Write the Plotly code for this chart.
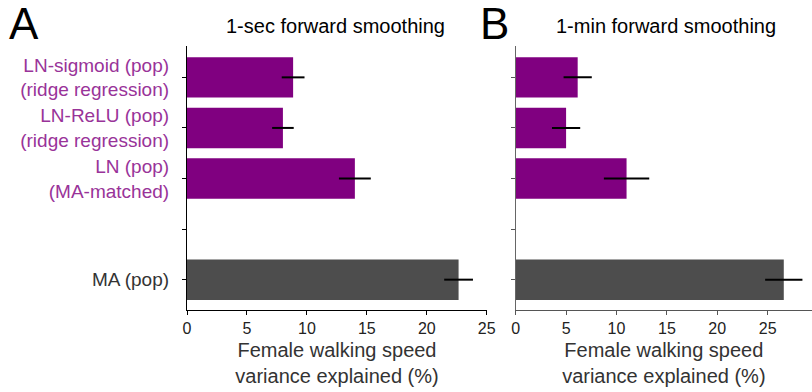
import plotly.graph_objects as go

categories = ["LN-sigmoid (pop)<br>(ridge regression)",
              "LN-ReLU (pop)<br>(ridge regression)",
              "LN (pop)<br>(MA-matched)",
              "",
              "MA (pop)"]
positions = [0, 1, 2, 3, 4]
bar_pos = [0, 1, 2, 4]
label_colors = ["#993399", "#993399", "#993399", "#993399", "#333333"]
bar_colors = ["#800080", "#800080", "#800080", "#4d4d4d"]

sec_values = [8.85, 8.0, 14.0, 22.65]
sec_errors = [0.95, 0.9, 1.33, 1.2]
min_values = [6.15, 5.0, 11.0, 26.6]
min_errors = [1.4, 1.4, 2.25, 1.85]

titles = ["1-sec forward smoothing", "1-min forward smoothing"]
xtitle = "Female walking speed<br>variance explained (%)"
xticks = [0, 5, 10, 15, 20, 25]

FONT = "Liberation Sans, Arial, sans-serif"

fig = go.Figure()
fig.add_trace(go.Bar(x=sec_values, y=bar_pos, orientation="h", width=0.8,
                     marker=dict(color=bar_colors, line=dict(width=0)),
                     error_x=dict(type="data", array=sec_errors, color="black",
                                  thickness=2, width=0),
                     xaxis="x", yaxis="y", showlegend=False))
fig.add_trace(go.Bar(x=min_values, y=bar_pos, orientation="h", width=0.8,
                     marker=dict(color=bar_colors, line=dict(width=0)),
                     error_x=dict(type="data", array=min_errors, color="black",
                                  thickness=2, width=0),
                     xaxis="x2", yaxis="y2", showlegend=False))

ticktext = [f"<span style='color:{c}'>{t}</span>" for t, c in zip(categories, label_colors)]

ydom = [1 - 310 / 392, 1 - 46 / 392]
yrange = [4.6, -0.62]

common_x = dict(tickvals=xticks, ticks="outside", ticklen=4, tickwidth=1,
                showline=True, linewidth=1.2, showgrid=False, zeroline=False,
                automargin=False,
                tickfont=dict(size=16, color="#222", family=FONT),
                title=dict(text=xtitle, font=dict(size=20, color="#333", family=FONT), standoff=6))

fig.update_layout(
    width=812, height=392,
    margin=dict(l=0, r=0, t=0, b=0),
    paper_bgcolor="white", plot_bgcolor="white",
    bargap=0.2,
    xaxis=dict(domain=[187 / 812, 487 / 812], range=[0, 25.02], linecolor="black", tickcolor="black", **common_x),
    xaxis2=dict(domain=[515.7 / 812, 1.0], range=[0, 29.4], linecolor="#555", tickcolor="#555", **common_x),
    yaxis=dict(domain=ydom, range=yrange, tickvals=positions, ticktext=ticktext,
               ticks="outside", ticklen=4, tickcolor="black", showline=True,
               linecolor="black", linewidth=1.2, showgrid=False, zeroline=False,
               ticklabelstandoff=9, automargin=False,
               tickfont=dict(size=19, family=FONT), anchor="x"),
    yaxis2=dict(domain=ydom, range=yrange, tickvals=positions, showticklabels=False,
                ticks="outside", ticklen=4, tickcolor="#555", showline=True,
                linecolor="#666", linewidth=1.2, showgrid=False, zeroline=False,
                automargin=False, anchor="x2"),
    annotations=[
        dict(text=titles[0], x=335 / 812, y=1 - 26 / 392, xref="paper", yref="paper",
             showarrow=False, font=dict(size=20, color="black", family=FONT), xanchor="center", yanchor="middle"),
        dict(text=titles[1], x=666 / 812, y=1 - 26 / 392, xref="paper", yref="paper",
             showarrow=False, font=dict(size=20, color="black", family=FONT), xanchor="center", yanchor="middle"),
        dict(text="A", x=7 / 812, y=1 - 24 / 392, xref="paper", yref="paper", showarrow=False,
             font=dict(size=44, color="black", family=FONT), xanchor="left", yanchor="middle"),
        dict(text="B", x=478 / 812, y=1 - 24 / 392, xref="paper", yref="paper", showarrow=False,
             font=dict(size=44, color="black", family=FONT), xanchor="left", yanchor="middle"),
    ],
)

fig.write_html("out.html")
